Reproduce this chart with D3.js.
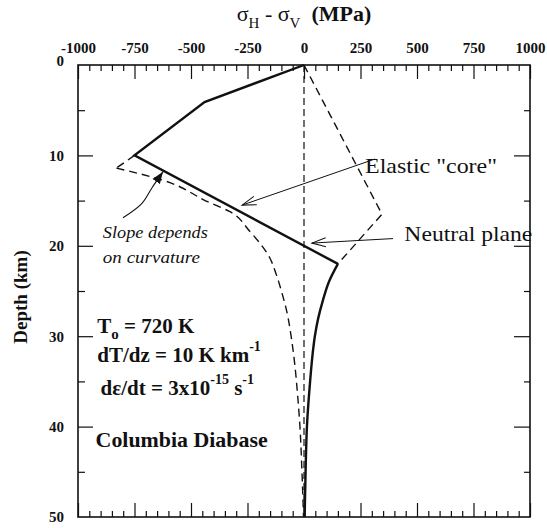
<!DOCTYPE html>
<html><head><meta charset="utf-8">
<script src="https://cdn.jsdelivr.net/npm/d3@7"></script>
<style>
body{margin:0;background:#fff}
svg{display:block}
text{font-family:"Liberation Serif","Times New Roman",serif;fill:#111}
</style>
</head><body>
<svg id="c" width="547" height="528"></svg>
<script>
// ---------- data ----------
const xMajorTicks = [-1000, -750, -500, -250, 0, 250, 500, 750, 1000];
const xMinorTicks = [-950,-900,-850,-800,-700,-650,-600,-550,-450,-400,-350,-300,-200,-150,-100,-50,
                     50,100,150,200,300,350,400,450,550,600,650,700,800,850,900,950];
const yMajorTicks = [0, 10, 20, 30, 40, 50];
const yMinorTicks = [5, 15, 25, 35, 45];

// solid: stress profile (MPa vs km)
const solidUpperStress = [0, -440, -750, 150];
const solidUpperDepth  = [0, 4.1, 10, 22];
const solidTailStress  = [150, 110, 84, 63, 48, 38, 27, 13, 7, 3];
const solidTailDepth   = [22, 24, 26, 28, 30, 32, 35, 40, 45, 50];

// dashed: elastic bending stress
const elasticStress = [0, 345, 150];
const elasticDepth  = [0, 16.5, 22];

// dashed: curvature-dependent profile
const cornerStress = [-750, -830];
const cornerDepth  = [10, 11.4];
const curveStress  = [-830, -630, -420, -330, -240, -150, -125, -100, -75, -57, -40, -30, -18, -9, -2];
const curveDepth   = [11.4, 12.7, 15.2, 16.2, 18.4, 21.4, 23, 25, 27.4, 30, 33.3, 36, 40, 45, 50];

// zero (neutral) line
const zeroStress = [0, 0];
const zeroDepth  = [0, 50];

// ---------- setup ----------
const svg = d3.select("#c");
const x = d3.scaleLinear().domain([-1000, 1000]).range([78, 530]);
const y = d3.scaleLinear().domain([0, 50]).range([65, 517]);
const F = '"Liberation Serif","Times New Roman",serif';
const zip = (a, b) => a.map((v, i) => [v, b[i]]);
const line = d3.line().x(d => x(d[0])).y(d => y(d[1]));
const curveLine = d3.line().x(d => x(d[0])).y(d => y(d[1])).curve(d3.curveMonotoneY);

// markers
const defs = svg.append("defs");
defs.append("marker").attr("id","open").attr("viewBox","-14 -6 16 12")
  .attr("refX",0).attr("refY",0).attr("markerWidth",16).attr("markerHeight",12)
  .attr("markerUnits","userSpaceOnUse").attr("orient","auto")
  .append("path").attr("d","M-14,-4.5 L0,0 L-14,4.5").attr("fill","none").attr("stroke","#111").attr("stroke-width",1);
defs.append("marker").attr("id","filled").attr("viewBox","-12 -5 13 10")
  .attr("refX",0).attr("refY",0).attr("markerWidth",13).attr("markerHeight",10)
  .attr("markerUnits","userSpaceOnUse").attr("orient","auto")
  .append("path").attr("d","M-12,-4.5 L0,0 L-12,4.5 Z").attr("fill","#111");

// ---------- axes ----------
function styleAxis(g){
  g.select(".domain").remove();
  g.selectAll("line").attr("stroke","#111").attr("stroke-width",1.2);
  g.attr("font-family", F);
}
svg.append("g").attr("transform",`translate(0,${y(0)})`)
  .call(d3.axisTop(x).tickValues(xMajorTicks).tickSize(-14).tickSizeOuter(0).tickPadding(12).tickFormat(d => String(d)))
  .call(styleAxis)
  .call(g => g.selectAll("text").attr("font-size",15).attr("font-weight","bold").attr("fill","#111"));
svg.append("g").attr("transform",`translate(0,${y(0)})`)
  .call(d3.axisTop(x).tickValues(xMinorTicks).tickSize(-6).tickSizeOuter(0).tickFormat(""))
  .call(styleAxis);
svg.append("g").attr("transform",`translate(0,${y(50)})`)
  .call(d3.axisBottom(x).tickValues(xMajorTicks).tickSize(-14).tickSizeOuter(0).tickFormat(""))
  .call(styleAxis);
svg.append("g").attr("transform",`translate(0,${y(50)})`)
  .call(d3.axisBottom(x).tickValues(xMinorTicks).tickSize(-6).tickSizeOuter(0).tickFormat(""))
  .call(styleAxis);
svg.append("g").attr("transform",`translate(${x(-1000)},0)`)
  .call(d3.axisLeft(y).tickValues(yMajorTicks).tickSize(-15).tickSizeOuter(0).tickPadding(14).tickFormat(d => String(d)))
  .call(styleAxis)
  .call(g => g.selectAll("text").attr("font-size",15).attr("font-weight","bold").attr("fill","#111"))
  .call(g => g.selectAll(".tick").filter(d => d === 0).select("text").attr("dy","0.05em"))
  .call(g => g.selectAll(".tick").filter(d => d === 0 || d === 50).select("line").remove());
svg.append("g").attr("transform",`translate(${x(-1000)},0)`)
  .call(d3.axisLeft(y).tickValues(yMinorTicks).tickSize(-7).tickSizeOuter(0).tickFormat(""))
  .call(styleAxis);
svg.append("g").attr("transform",`translate(${x(1000)},0)`)
  .call(d3.axisRight(y).tickValues(yMajorTicks.slice(1,-1)).tickSize(-16).tickSizeOuter(0).tickFormat(""))
  .call(styleAxis);
svg.append("g").attr("transform",`translate(${x(1000)},0)`)
  .call(d3.axisRight(y).tickValues(yMinorTicks).tickSize(-6).tickSizeOuter(0).tickFormat(""))
  .call(styleAxis);

// frame
svg.append("rect").attr("x",x(-1000)).attr("y",y(0)).attr("width",x(1000)-x(-1000)).attr("height",y(50)-y(0))
  .attr("fill","none").attr("stroke","#111").attr("stroke-width",1.6);

// ---------- curves ----------
svg.append("path").datum(zip(zeroStress, zeroDepth)).attr("d", line)
  .attr("fill","none").attr("stroke","#111").attr("stroke-width",1.2).attr("stroke-dasharray","7,4");
svg.append("path").datum(zip(elasticStress, elasticDepth)).attr("d", line)
  .attr("fill","none").attr("stroke","#111").attr("stroke-width",1.4).attr("stroke-dasharray","8,5");
svg.append("path").datum(zip(cornerStress, cornerDepth)).attr("d", line)
  .attr("fill","none").attr("stroke","#111").attr("stroke-width",1.4).attr("stroke-dasharray","8,5");
svg.append("path").datum(zip(curveStress, curveDepth)).attr("d", curveLine)
  .attr("fill","none").attr("stroke","#111").attr("stroke-width",1.4).attr("stroke-dasharray","8,5");
svg.append("path").datum(zip(solidUpperStress, solidUpperDepth)).attr("d", line)
  .attr("fill","none").attr("stroke","#111").attr("stroke-width",2.4).attr("stroke-linejoin","miter");
svg.append("path").datum(zip(solidTailStress, solidTailDepth)).attr("d", curveLine)
  .attr("fill","none").attr("stroke","#111").attr("stroke-width",2.4);

// ---------- annotations ----------
svg.append("path").datum([[314, 10.4], [-274, 15.5]]).attr("d", line)
  .attr("fill","none").attr("stroke","#111").attr("stroke-width",1).attr("marker-end","url(#open)");
svg.append("path").datum([[394, 19.2], [35, 19.7]]).attr("d", line)
  .attr("fill","none").attr("stroke","#111").attr("stroke-width",1).attr("marker-end","url(#open)");
svg.append("path").datum([[-801, 16.9], [-717, 15.3], [-673, 13.6], [-624, 11.8]])
  .attr("d", d3.line().x(d => x(d[0])).y(d => y(d[1])).curve(d3.curveCatmullRom))
  .attr("fill","none").attr("stroke","#111").attr("stroke-width",1.1).attr("marker-end","url(#filled)");

svg.append("text").attr("x", x(270)).attr("y", y(11.9)).attr("font-size",22)
  .attr("textLength",132).attr("lengthAdjust","spacingAndGlyphs").text('Elastic "core"');
svg.append("text").attr("x", x(444)).attr("y", y(19.5)).attr("font-size",22)
  .attr("textLength",128).attr("lengthAdjust","spacingAndGlyphs").text('Neutral plane');
svg.append("text").attr("x", x(-890)).attr("y", y(19.1)).attr("font-size",17).attr("font-style","italic")
  .attr("textLength",105).attr("lengthAdjust","spacingAndGlyphs").text('Slope depends');
svg.append("text").attr("x", x(-890)).attr("y", y(21.9)).attr("font-size",17).attr("font-style","italic")
  .attr("textLength",97).attr("lengthAdjust","spacingAndGlyphs").text('on curvature');

// parameter block
const t1 = svg.append("text").attr("x", x(-915)).attr("y", y(29.6)).attr("font-size",21).attr("font-weight","bold");
t1.append("tspan").text("T");
t1.append("tspan").attr("font-size",15).attr("dy",6).text("o");
t1.append("tspan").attr("dy",-6).text(" = 720 K");

const t2 = svg.append("text").attr("x", x(-915)).attr("y", y(32.9)).attr("font-size",21).attr("font-weight","bold");
t2.append("tspan").text("dT/dz = 10 K km");
t2.append("tspan").attr("font-size",14).attr("dy",-11).text("-1");

const t3 = svg.append("text").attr("x", x(-900)).attr("y", y(36.5)).attr("font-size",21).attr("font-weight","bold");
t3.append("tspan").text("d\u03B5/dt = 3x10");
t3.append("tspan").attr("font-size",14).attr("dy",-11).text("-15");
t3.append("tspan").attr("dy",11).text(" s");
t3.append("tspan").attr("font-size",14).attr("dy",-11).text("-1");

svg.append("text").attr("x", x(-922)).attr("y", y(42.3)).attr("font-size",21).attr("font-weight","bold")
  .attr("textLength",172).attr("lengthAdjust","spacingAndGlyphs").text("Columbia Diabase");

// axis titles
const tt = svg.append("text").attr("x", x(0)).attr("y", 21).attr("font-size",22).attr("text-anchor","middle");
tt.append("tspan").text("\u03C3");
tt.append("tspan").attr("font-size",15).attr("dy",7).text("H");
tt.append("tspan").attr("dy",-7).text(" - \u03C3");
tt.append("tspan").attr("font-size",15).attr("dy",7).text("V");
tt.append("tspan").attr("dy",-7).attr("font-weight","bold").text("\u00A0 (MPa)");

svg.append("text").attr("transform",`translate(27,${(y(0)+y(50))/2 + 6}) rotate(-90)`)
  .attr("text-anchor","middle").attr("font-size",19).attr("font-weight","bold").text("Depth (km)");
</script>
</body></html>
